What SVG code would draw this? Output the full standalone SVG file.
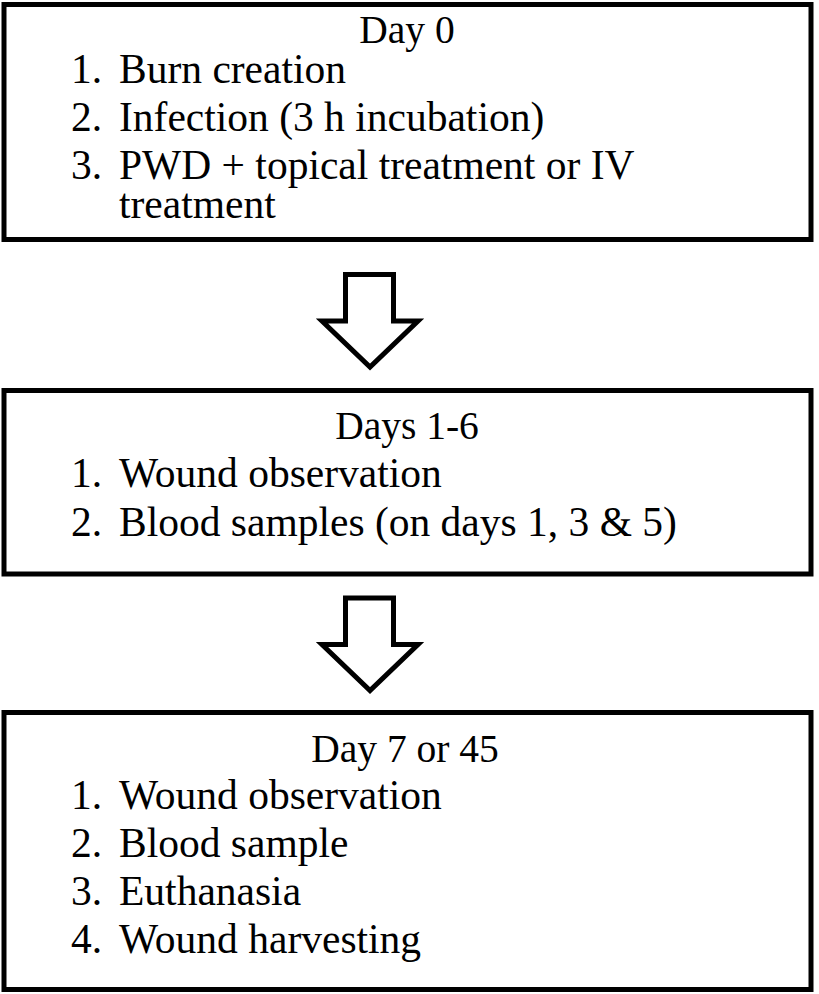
<svg xmlns="http://www.w3.org/2000/svg" width="819" height="994" viewBox="0 0 819 994">
<style>
.box{fill:#fff;stroke:#000;stroke-width:5}
.arrow{fill:#fff;stroke:#000;stroke-width:5;stroke-linejoin:miter}
text{font-family:"Liberation Serif","Times New Roman",serif;fill:#000}
.title{font-size:39.5px;text-anchor:middle}
.item{font-size:41.5px}
</style>
<rect x="0" y="0" width="819" height="994" fill="#fff"/>
<g id="node-day0">
<rect class="box" x="4" y="4.5" width="807" height="235"/>
<text class="title" x="407" y="43">Day 0</text>
<text class="item" x="71" y="83">1.</text><text class="item" x="119" y="83">Burn creation</text>
<text class="item" x="71" y="131">2.</text><text class="item" x="119" y="131">Infection (3 h incubation)</text>
<text class="item" x="71" y="179">3.</text><text class="item" x="119" y="179">PWD + topical treatment or IV</text>
<text class="item" x="119" y="218">treatment</text>
</g>
<g id="node-days1-6">
<rect class="box" x="4" y="390.5" width="807" height="183.5"/>
<text class="title" x="407" y="439">Days 1-6</text>
<text class="item" x="71" y="487">1.</text><text class="item" x="119" y="487">Wound observation</text>
<text class="item" x="71" y="536">2.</text><text class="item" x="119" y="536">Blood samples (on days 1, 3 &amp; 5)</text>
</g>
<g id="node-day7or45">
<rect class="box" x="4" y="712.5" width="807" height="277"/>
<text class="title" x="405" y="761.5">Day 7 or 45</text>
<text class="item" x="71" y="809">1.</text><text class="item" x="119" y="809">Wound observation</text>
<text class="item" x="71" y="857">2.</text><text class="item" x="119" y="857">Blood sample</text>
<text class="item" x="71" y="905">3.</text><text class="item" x="119" y="905">Euthanasia</text>
<text class="item" x="71" y="953">4.</text><text class="item" x="119" y="953">Wound harvesting</text>
</g>
<g id="connectors">
<polygon class="arrow" points="345.5,274.5 393.5,274.5 393.5,321 418,321 370,367 322,321 345.5,321"/>
<polygon class="arrow" points="345.5,598 393.5,598 393.5,644.5 418,644.5 370,690.5 322,644.5 345.5,644.5"/>
</g>
</svg>
